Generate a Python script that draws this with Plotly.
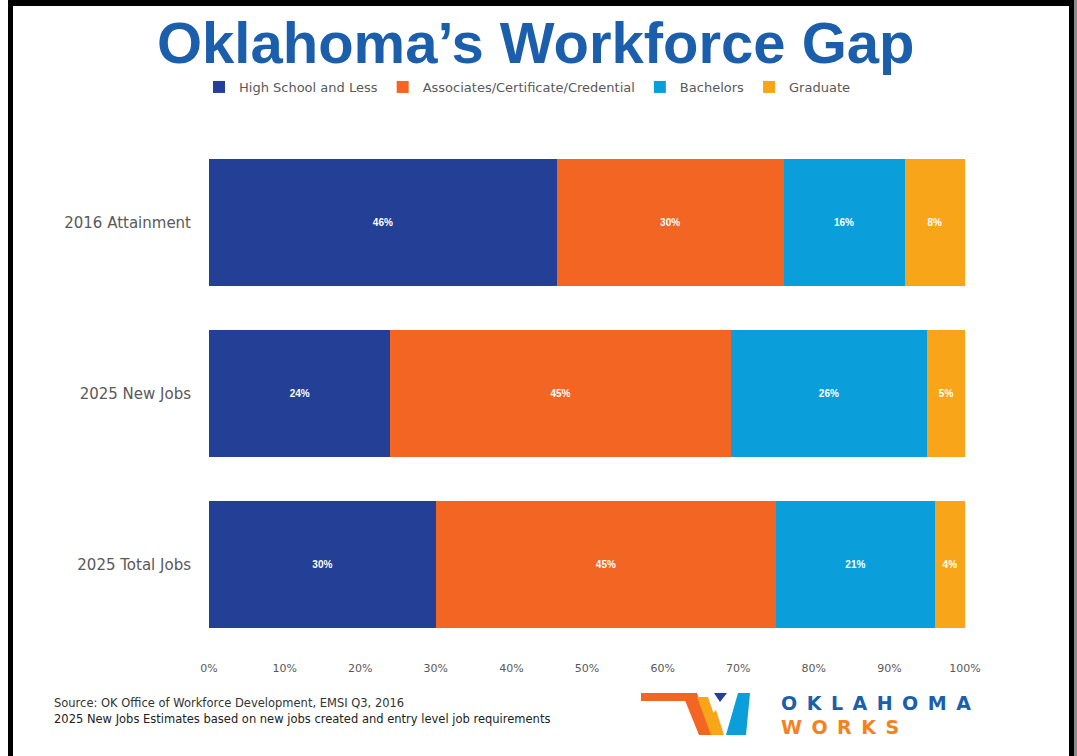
import plotly.graph_objects as go

categories = ["2016 Attainment", "2025 New Jobs", "2025 Total Jobs"]
series_names = ["High School and Less", "Associates/Certificate/Credential", "Bachelors", "Graduate"]
high_school = [46, 24, 30]
associates = [30, 45, 45]
bachelors = [16, 26, 21]
graduate = [8, 5, 4]
x_ticks = [0, 10, 20, 30, 40, 50, 60, 70, 80, 90, 100]
x_tick_labels = [f"{t}%" for t in x_ticks]
colors = ["#233f96", "#f26522", "#0a9fdb", "#f9a51a"]

W, H = 1077, 756
L, R, T, B = 209, 112, 137, 106
PW, PH = W - L - R, H - T - B


def px(x):
    return (x - L) / PW


def py(y):
    return (H - B - y) / PH


fig = go.Figure()
for name, vals, col in zip(series_names, [high_school, associates, bachelors, graduate], colors):
    fig.add_trace(go.Bar(
        y=categories, x=vals, name=name, orientation="h",
        marker=dict(color=col, line=dict(width=0)),
        text=[f"<b>{v}%</b>" for v in vals], textposition="inside",
        insidetextanchor="middle",
        textfont=dict(color="white", size=10, family="Liberation Sans"),
        constraintext="none",
    ))

shapes = []
# frame borders
for x0, y0, x1, y1, c in [(8, 0, 13, 756, "black"), (8, 0, 1074, 6, "black"),
                          (1069, 0, 1074, 756, "black"), (1074, 0, 1077, 756, "#8a8a8a")]:
    shapes.append(dict(type="rect", xref="paper", yref="paper", x0=px(x0), x1=px(x1),
                       y0=py(y1), y1=py(y0), fillcolor=c, line=dict(width=0), layer="above"))


def poly(points, col):
    d = "M " + " L ".join(f"{px(a):.5f},{py(b):.5f}" for a, b in points) + " Z"
    return dict(type="path", xref="paper", yref="paper", path=d, fillcolor=col,
                line=dict(width=0), layer="above")


# logo icon
shapes.append(poly([(641, 693), (686, 693), (689, 701), (641, 701)], "#f26522"))
shapes.append(poly([(682, 693), (697, 693), (712, 735), (699, 735)], "#f26522"))
shapes.append(poly([(697, 697), (708, 697), (721, 735), (711, 735)], "#f9a51a"))
shapes.append(poly([(714, 693), (727, 693), (720, 702)], "#233f96"))
shapes.append(poly([(738, 693), (750, 693), (746, 735), (726, 735)], "#0a9fdb"))
shapes.append(poly([(708, 718), (716, 710), (724, 735), (712, 735)], "#f9a51a"))

sp = "\u2002"
annotations = [
    dict(text="<b>Oklahoma’s Workforce Gap</b>", x=px(535), y=py(43), xref="paper", yref="paper",
         showarrow=False, xanchor="center", yanchor="middle",
         font=dict(family="Liberation Sans", size=58, color="#1b5fac")),
    dict(text="Source: OK Office of Workforce Development, EMSI Q3, 2016", x=px(52), y=py(703),
         xref="paper", yref="paper", showarrow=False, xanchor="left", yanchor="middle",
         font=dict(family="DejaVu Sans", size=11.5, color="#333333")),
    dict(text="2025 New Jobs Estimates based on new jobs created and entry level job requirements",
         x=px(52), y=py(719), xref="paper", yref="paper", showarrow=False, xanchor="left",
         yanchor="middle", font=dict(family="DejaVu Sans", size=11.5, color="#222222")),
    dict(text="<b>" + sp.join("OKLAHOMA") + "</b>", x=px(779), y=py(703), xref="paper", yref="paper",
         showarrow=False, xanchor="left", yanchor="middle",
         font=dict(family="DejaVu Sans", size=19, color="#1b5fac")),
    dict(text="<b>" + sp.join("WORKS") + "</b>", x=px(779), y=py(727), xref="paper", yref="paper",
         showarrow=False, xanchor="left", yanchor="middle",
         font=dict(family="DejaVu Sans", size=19, color="#f58220")),
]

fig.update_layout(
    width=W, height=H, barmode="stack", bargap=0.26,
    margin=dict(l=L, r=R, t=T, b=B, autoexpand=False),
    paper_bgcolor="white", plot_bgcolor="white",
    font=dict(family="Liberation Sans", color="#595959"),
    legend=dict(orientation="h", x=px(527), y=py(87), xanchor="center", yanchor="middle",
                font=dict(size=13, family="DejaVu Sans", color="#595959"), itemwidth=30,
                traceorder="normal"),
    xaxis=dict(range=[0, 100], tickvals=x_ticks, ticktext=x_tick_labels, showgrid=False,
               zeroline=False, showline=False,
               tickfont=dict(size=11, family="DejaVu Sans", color="#595959"),
               ticks="", ticklabelstandoff=10),
    yaxis=dict(autorange="reversed", showgrid=False, zeroline=False, showline=False,
               tickfont=dict(size=15, family="DejaVu Sans", color="#595959"), ticks="",
               ticklabelstandoff=17),
    shapes=shapes, annotations=annotations,
)

fig.write_html("out.html")
